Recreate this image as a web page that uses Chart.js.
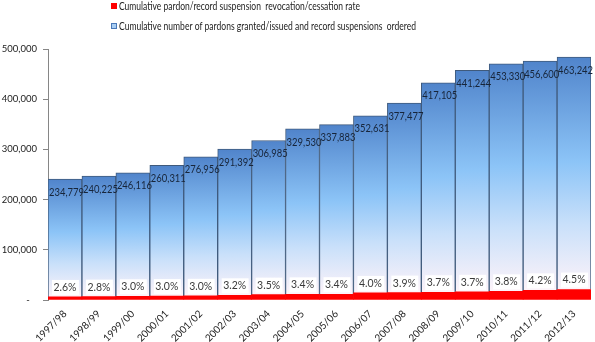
<!DOCTYPE html>
<html lang="en">
<head>
    <meta charset="UTF-8">
    <title>Pardons and record suspensions</title>
    <style>
        body {
            margin: 0;
            padding: 0;
            background-color: white;
        }
        .container {
            position: relative;
            width: 595px;
            height: 342px;
        }
    </style>
    <script src="https://cdn.jsdelivr.net/npm/chart.js"></script>
</head>
<body>
    <div class="container">
        <canvas id="pardon-chart" width="595" height="342"></canvas>
    </div>

    <script>
        // Fiscal years
        const years = ['1997/98', '1998/99', '1999/00', '2000/01', '2001/02', '2002/03', '2003/04', '2004/05',
            '2005/06', '2006/07', '2007/08', '2008/09', '2009/10', '2010/11', '2011/12', '2012/13'];

        // Cumulative number of pardons granted/issued and record suspensions ordered
        const pardons = [234779, 240225, 246116, 260311, 276956, 291392, 306985, 329530,
            337883, 352631, 377477, 417105, 441244, 453330, 456600, 463242];

        // Cumulative revocation/cessation rate (label shown on the red bars)
        const rates = ['2.6%', '2.8%', '3.0%', '3.0%', '3.0%', '3.2%', '3.5%', '3.4%',
            '3.4%', '4.0%', '3.9%', '3.7%', '3.7%', '3.8%', '4.2%', '4.5%'];

        // Cumulative revocations/cessations (height of the red bars)
        const revocations = [6100, 6700, 7400, 7800, 8300, 9300, 10700, 11200,
            11500, 14100, 14700, 15400, 16300, 17200, 19200, 20800];

        const legendLabels = [
            'Cumulative pardon/record suspension  revocation/cessation rate',
            'Cumulative number of pardons granted/issued and record suspensions  ordered'
        ];

        const FONT = 'Lato, "Open Sans", sans-serif';

        // Per-bar vertical gradient like the Excel fill
        function blueFill(ctx) {
            const chart = ctx.chart;
            if (!chart.chartArea) return '#7fb0e8';
            const y = chart.scales.y;
            const i = ctx.dataIndex;
            const top = y.getPixelForValue(revocations[i] + pardons[i]);
            const bottom = y.getPixelForValue(revocations[i]);
            const g = chart.ctx.createLinearGradient(0, top, 0, bottom);
            g.addColorStop(0, '#5084cb');
            g.addColorStop(0.45, '#8cc4f7');
            g.addColorStop(0.72, '#c9e0fa');
            g.addColorStop(1, '#fdf3f9');
            return g;
        }

        // Value labels and legend drawn on top of the bars
        const labelPlugin = {
            id: 'labels',
            afterDatasetsDraw(chart) {
                const ctx = chart.ctx;
                const red = chart.getDatasetMeta(0).data;
                const blue = chart.getDatasetMeta(1).data;
                ctx.save();
                ctx.font = '11px ' + FONT;
                ctx.textBaseline = 'middle';
                blue.forEach((bar, i) => {
                    ctx.fillStyle = '#17253a';
                    ctx.textAlign = 'left';
                    ctx.fillText(pardons[i].toLocaleString('en-US'), bar.x - bar.width / 2 + 1, bar.y + 13, 35);
                });
                ctx.font = '10.5px ' + FONT;
                red.forEach((bar, i) => {
                    const left = bar.x - bar.width / 2 + 4;
                    const w = bar.width - 7;
                    ctx.fillStyle = 'white';
                    ctx.fillRect(left, bar.y - 17, w, 15);
                    ctx.fillStyle = '#3a3a3a';
                    ctx.textAlign = 'center';
                    ctx.fillText(rates[i], bar.x, bar.y - 9.5, 23);
                });
                ctx.restore();
            },
            afterDraw(chart) {
                const ctx = chart.ctx;
                ctx.save();
                ctx.font = '11px ' + FONT;
                ctx.textBaseline = 'middle';
                ctx.textAlign = 'left';
                // red item
                ctx.fillStyle = '#ff0000';
                ctx.fillRect(111, 3, 6, 6);
                ctx.fillStyle = '#222';
                ctx.fillText(legendLabels[0], 119, 6.5, 241);
                // blue item
                ctx.fillStyle = '#a8cdf2';
                ctx.fillRect(111, 23, 6, 6);
                ctx.strokeStyle = '#4a78b8';
                ctx.lineWidth = 1;
                ctx.strokeRect(111.5, 23.5, 5, 5);
                ctx.fillStyle = '#222';
                ctx.fillText(legendLabels[1], 119, 26, 297);
                ctx.restore();
            }
        };

        new Chart(document.getElementById('pardon-chart'), {
            type: 'bar',
            data: {
                labels: years,
                datasets: [
                    {
                        label: legendLabels[0],
                        data: revocations,
                        backgroundColor: '#ff0000',
                        borderWidth: 0,
                        categoryPercentage: 1,
                        barPercentage: 1
                    },
                    {
                        label: legendLabels[1],
                        data: pardons,
                        backgroundColor: blueFill,
                        borderColor: '#3f5a7c',
                        borderWidth: 1,
                        categoryPercentage: 1,
                        barPercentage: 1
                    }
                ]
            },
            options: {
                responsive: false,
                animation: false,
                layout: {
                    padding: { top: 49, right: 4, left: 0, bottom: 0 }
                },
                plugins: {
                    legend: { display: false },
                    tooltip: { enabled: false }
                },
                scales: {
                    x: {
                        stacked: true,
                        grid: { display: false },
                        border: { display: false },
                        ticks: {
                            minRotation: 45,
                            maxRotation: 45,
                            padding: 0,
                            color: '#222',
                            font: { family: FONT, size: 10 }
                        },
                        afterFit: s => { s.height = 42; }
                    },
                    y: {
                        stacked: true,
                        min: 0,
                        max: 500000,
                        grid: {
                            drawOnChartArea: false,
                            drawTicks: true,
                            tickLength: 5,
                            color: '#868686'
                        },
                        border: { display: true, color: '#868686' },
                        ticks: {
                            stepSize: 100000,
                            padding: 6,
                            color: '#222',
                            font: { family: FONT, size: 9.5 },
                            callback: v => v === 0 ? '-   ' : v.toLocaleString('en-US')
                        },
                        afterFit: s => { s.width = 48; }
                    }
                }
            },
            plugins: [labelPlugin]
        });
    </script>
</body>
</html>
